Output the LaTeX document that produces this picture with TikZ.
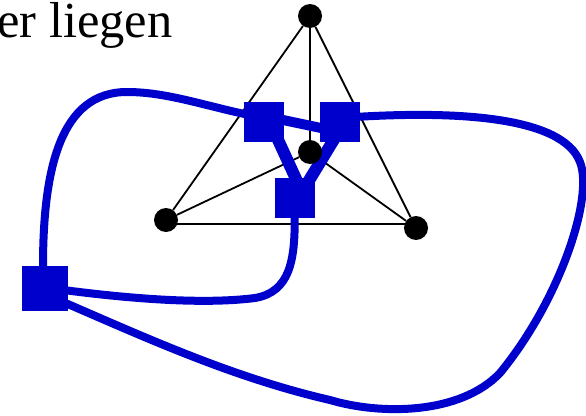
\documentclass[tikz,border=0pt]{standalone}
\usepackage{fontspec}
\setmainfont{Liberation Serif}
\usetikzlibrary{calc}
\definecolor{sqblue}{RGB}{0,0,204}
\pgfdeclarelayer{klayer}
\pgfdeclarelayer{blayer}
\pgfsetlayers{klayer,blayer,main}
\begin{document}
\begin{tikzpicture}[x=1pt,y={(0pt,-1pt)},
  vtx/.style={circle,fill=black,inner sep=0pt,minimum size=24pt},
  sq/.style={rectangle,fill=sqblue,inner sep=0pt,minimum size=40pt},
  kline/.style={line width=1.8pt,black},
  bline/.style={line width=8pt,sqblue},
  barm/.style={line width=12pt,sqblue},
  bmid/.style={line width=10pt,sqblue}]
\useasboundingbox (0,0) rectangle (586,415);
\node[anchor=base west,inner sep=0pt,font=\fontsize{50.5}{52}\selectfont] (txt) at (-3,37) {er liegen};
% blue squares
\node[sq] (A) at (264,122) {};
\node[sq] (B) at (340,122) {};
\node[sq] (D) at (294.5,197.5) {};
\node[sq,minimum width=46pt,minimum height=45pt] (E) at (45,288.5) {};
% black vertices
\node[vtx] (T) at (310,16) {};
\node[vtx] (C) at (310,152) {};
\node[vtx] (L) at (166,220) {};
\node[vtx] (R) at (416,228) {};
\begin{pgfonlayer}{klayer}
\draw[kline] (T) -- (C);
\draw[kline] (T) -- (L);
\draw[kline] (T) -- (R);
\draw[kline] (L) -- (C);
\draw[kline] (C) -- (R);
\draw[kline] ($(L)+(0,4)$) -- ($(R)+(0,-4)$);
\end{pgfonlayer}
\begin{pgfonlayer}{blayer}
\draw[bline] ($(E)+(-2,0)$) -- ($(E)+(-2,-22)$) .. controls (43,170) and (60,92) .. (127,92)
  .. controls (170,92) and (210,108) .. ($(A)+(0,-4)$);
\draw[bmid] ($(A)+(0,-6)$) -- ($(B)+(0,10)$);
\draw[bline] ($(B)+(0,-4)$) .. controls (450,110) and (562,115) .. (580,162)
  .. controls (594,197) and (560,300) .. (500,373)
  .. controls (460,415) and (380,415) .. (330,400)
  .. controls (230,377) and (140,335) .. ($(E)+(10,10)$);
\draw[bline] ($(E)+(0,-1)$) .. controls (120,298) and (200,305) .. (255,298)
  .. controls (290,292) and (295,260) .. (D);
\draw[barm] ($(A)+(4,-4)$) -- ($(D)+(7.5,-5.5)$);
\draw[barm] ($(B)+(7,-4)$) -- ($(D)+(7.5,-5.5)$);
\end{pgfonlayer}
\end{tikzpicture}
\end{document}
